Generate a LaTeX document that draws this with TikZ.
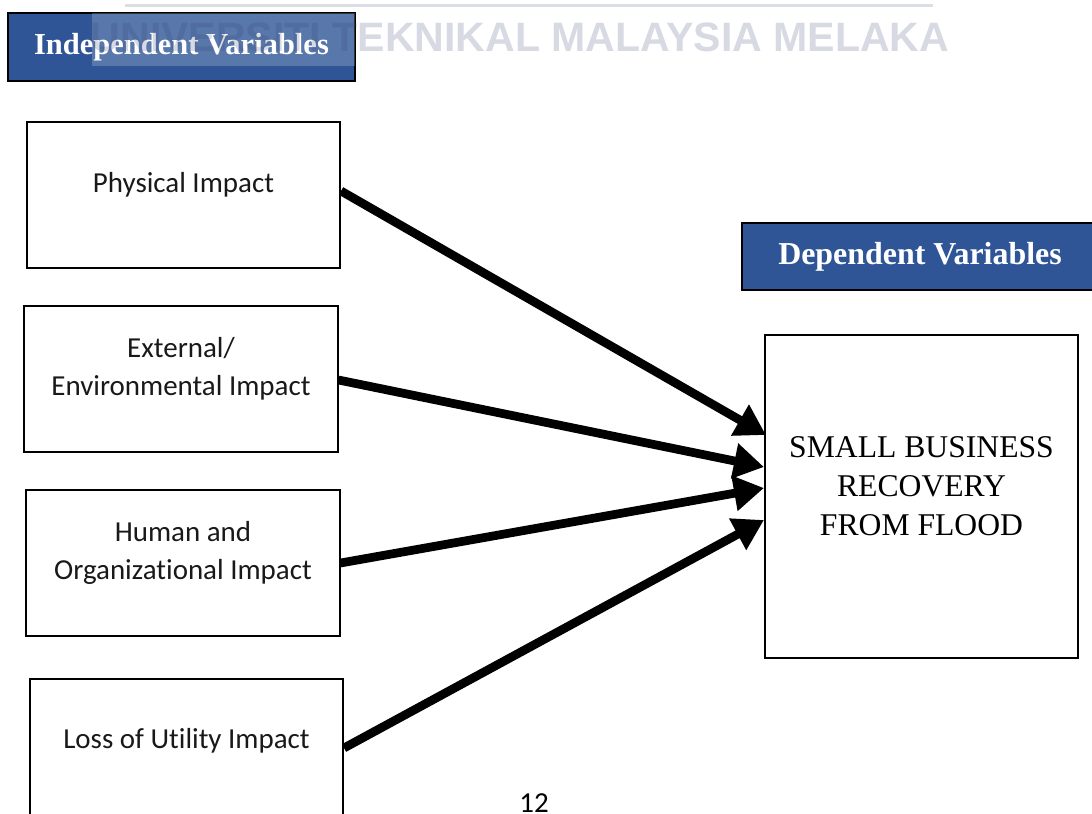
\documentclass[tikz,border=0pt]{standalone}
\usepackage{fontspec}
\setmainfont{Liberation Serif}
\newfontfamily\calibri[Ligatures={NoCommon}]{Carlito}
\newfontfamily\arialf{Liberation Sans}
\usetikzlibrary{arrows.meta,calc}
\definecolor{hdrblue}{RGB}{47,85,151}
\definecolor{wmgray}{RGB}{55,70,115}
\definecolor{wmline}{RGB}{220,222,230}
\tikzset{
  hdr/.style={draw=black, line width=1.4pt, fill=hdrblue, inner sep=0pt},
  hdrtext/.style={text=white, font=\bfseries\fontsize{#1}{#1}\selectfont, inner sep=0pt},
  ivbox/.style={draw=black, line width=1.4pt, minimum width=7.825cm, minimum height=3.65cm, inner sep=0pt},
  ivtext/.style={font=\calibri\fontsize{20.6}{27}\selectfont, align=center, inner sep=0pt, text=black!90},
  dvbox/.style={draw=black, line width=1.4pt, minimum width=7.825cm, minimum height=8.075cm, inner sep=0pt},
  link/.style={line width=6.2pt, -{Triangle[length=7.5mm, width=8.5mm]}},
}
\begin{document}
\begin{tikzpicture}[x=0.025cm, y=-0.025cm]
\useasboundingbox (0,0) rectangle (1092,814);
% header boxes
\node[hdr, minimum width=8.675cm, minimum height=1.7cm] (ivh) at (181.5,47) {};
\node[hdrtext=21.7, anchor=base] (ivht) at (181.5,55) {Independent Variables};
\node[hdr, minimum width=9.05cm, minimum height=1.675cm] (dvh) at (923,256.5) {};
\node[hdrtext=22.7, anchor=base] (dvht) at (920,265) {Dependent Variables};
% independent variable boxes
\node[ivbox] (p) at (183.5,195) {};
\node[ivtext] (pt) at (183.5,185) {Physical Impact};
\node[ivbox] (e) at (181,379) {};
\node[ivtext] (et) at (181,369) {External/\\Environmental Impact};
\node[ivbox] (h) at (183,563) {};
\node[ivtext] (ht) at (183,553) {Human and\\Organizational Impact};
\node[ivbox] (l) at (186.5,752) {};
\node[ivtext] (lt) at (186.5,741) {Loss of Utility Impact};
% dependent variable box
\node[dvbox] (s) at (921.5,496.5) {};
\node[font=\fontsize{22.5}{27.7}\selectfont, align=center, inner sep=0pt] (st) at (921.5,486) {SMALL BUSINESS\\RECOVERY\\FROM FLOOD};
% connectors
\draw[link] ($(p.east)+(0,-4)$) -- ($(s.west)+(2,-61.5)$);
\draw[link] ($(e.east)+(0,1)$) -- ($(s.west)+(0,-29.5)$);
\draw[link] (h.east) -- ($(s.west)+(0,-8.5)$);
\draw[link] ($(l.east)+(0,-4)$) -- ($(s.west)+(0,23.5)$);
% page number
\node[font=\calibri\fontsize{20.6}{24}\selectfont, anchor=base, inner sep=0pt] (pg) at (534,812) {12};
% watermark
\fill[white, opacity=0.2] (92,13) rectangle (355,66);
\draw[wmline, line width=2.1pt] (125,5.5) -- (933,5.5);
\node[anchor=base, inner sep=0pt, text=wmgray, text opacity=0.2, font=\arialf\bfseries\fontsize{29.2}{30}\selectfont] (wm) at (520,52) {UNIVERSITI TEKNIKAL MALAYSIA MELAKA};
\end{tikzpicture}
\end{document}
